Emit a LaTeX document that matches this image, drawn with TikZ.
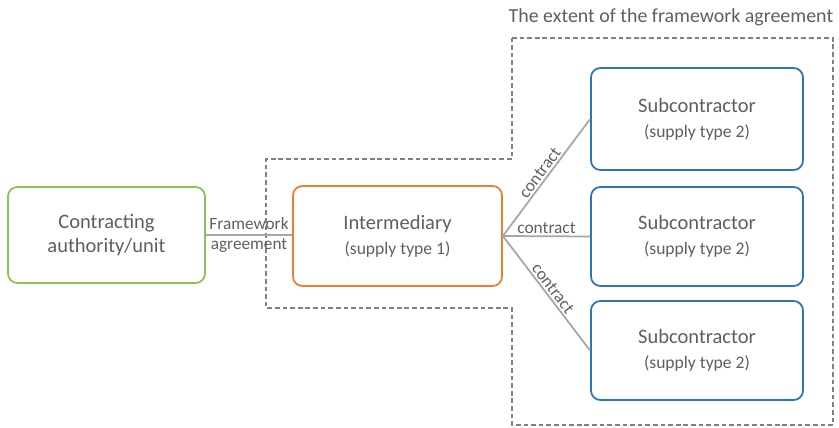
\documentclass[tikz,border=0pt]{standalone}
\usepackage{fontspec}
\setmainfont{Carlito}
\usetikzlibrary{positioning}

\definecolor{authgreen}{HTML}{8DC153}
\definecolor{intorange}{HTML}{ED7D31}
\definecolor{subblue}{HTML}{2E75B6}
\definecolor{textgray}{HTML}{5F5F5F}
\definecolor{linegray}{HTML}{A6A6A6}
\definecolor{dashgray}{HTML}{808080}

\tikzset{
  partybox/.style={draw, line width=1.5pt, rounded corners=8pt, fill=white,
    text=textgray, align=center, font=\fontsize{17.5}{21}\selectfont},
  link/.style={draw=linegray, line width=1.5pt},
  linklabel/.style={text=textgray, font=\fontsize{14.8}{15}\selectfont, inner sep=1.5pt},
}

\begin{document}
\begin{tikzpicture}
    \useasboundingbox (0,0) rectangle (25.17,12.81);
		% extent of the framework agreement
		\draw[dashgray, line width=1.5pt, dash pattern=on 4pt off 2.5pt]
		  (15.36,11.67) -- (24.99,11.67) -- (24.99,0.06) -- (15.36,0.06) -- (15.36,3.57)
		  -- (7.98,3.57) -- (7.98,8.04) -- (15.36,8.04) -- cycle;
		\node[text=textgray, font=\fontsize{17}{20}\selectfont, anchor=east, inner sep=0pt] (extent) at (25.0,12.3) {The extent of the framework agreement};
		% parties
		\node[partybox, draw=authgreen, minimum width=5.91cm, minimum height=2.88cm] (authority) at (3.195,5.76) {Contracting\\authority/unit};
		\node[partybox, draw=intorange, minimum width=6.27cm, minimum height=3.0cm] (intermediary) at (11.925,5.73) {Intermediary\\{\fontsize{15}{19}\selectfont (supply type 1)}};
		\node[partybox, draw=subblue, minimum width=6.36cm, minimum height=3.06cm] (sub1) at (20.91,9.24) {Subcontractor\\{\fontsize{15}{19}\selectfont (supply type 2)}};
		\node[partybox, draw=subblue, minimum width=6.36cm, minimum height=2.97cm] (sub2) at (20.91,5.715) {Subcontractor\\{\fontsize{15}{19}\selectfont (supply type 2)}};
		\node[partybox, draw=subblue, minimum width=6.36cm, minimum height=2.97cm] (sub3) at (20.91,2.295) {Subcontractor\\{\fontsize{15}{19}\selectfont (supply type 2)}};
		% connectors
		\draw[link] (authority.east) -- node[linklabel, align=center, font=\fontsize{14.7}{17.5}\selectfont] (fwlabel) {Framework\\agreement} (authority.east -| intermediary.west);
		\draw[link] (intermediary.east) -- node[linklabel, midway, sloped, above] (c1) {contract} (sub1.west);
		\draw[link] (intermediary.east) -- node[linklabel, midway, sloped, above] (c2) {contract} (sub2.west);
		\draw[link] (intermediary.east) -- node[linklabel, midway, sloped, above] (c3) {contract} (sub3.west);
\end{tikzpicture}
\end{document}
